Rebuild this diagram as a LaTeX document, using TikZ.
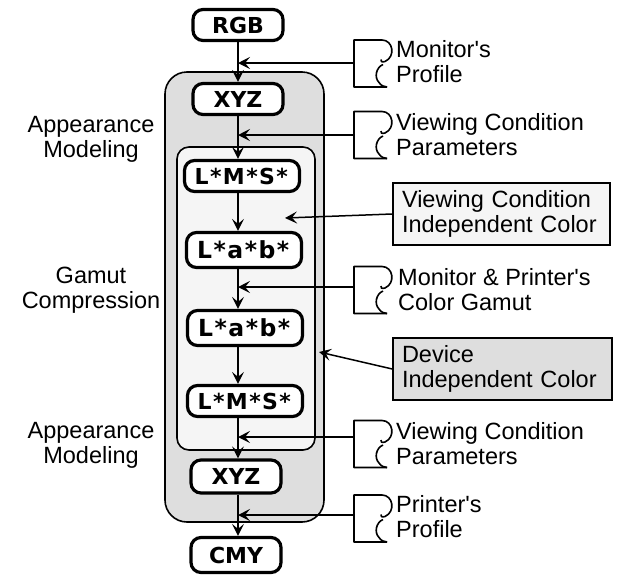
\documentclass[tikz,border=0pt]{standalone}
\usepackage{fontspec}
\setmainfont{Liberation Sans}
\newfontfamily\boxfont{DejaVu Sans}
\usetikzlibrary{arrows.meta}
\definecolor{outergray}{gray}{0.87}
\definecolor{innergray}{gray}{0.96}
\newcommand\ks{\kern1.4pt*\kern1.4pt}
\newcommand\kb{\kern1.5pt*\kern1.5pt}
\begin{document}
\begin{tikzpicture}[x=1pt,y=-1pt,
  txt/.style={font=\fontsize{23.5}{25}\selectfont, inner sep=0pt},
  stage/.style={draw, line width=3.2pt, rounded corners=10pt, fill=white,
    minimum height=31pt, minimum width=90pt, inner sep=0pt,
    font=\boxfont\bfseries\fontsize{22}{22}\selectfont},
  wide/.style={stage, minimum width=115pt},
  labbox/.style={wide, minimum height=35pt, font=\boxfont\bfseries\fontsize{23.5}{23.5}\selectfont},
  arr/.style={line width=1.5pt, -{Stealth[length=12pt,width=12pt,inset=5pt]}},
  frame/.style={draw, line width=1.6pt, inner sep=0pt},
  lblbox/.style={txt, draw, line width=1.5pt, align=left, inner xsep=9pt, minimum height=62pt},
  docpic/.pic={
    \draw[line width=1.6pt, line join=round]
      (33,23.5) -- (0,23.5) -- (0,-23.5) -- (28,-23.5)
      .. controls (39,-23.5) and (42,-7) .. (31,-2)
      .. controls (28,-1) and (26,-2) .. (27,-4);
    \draw[line width=1.6pt]
      (29,1) .. controls (22,4) and (20,14) .. (25,19)
      .. controls (27,22) and (30,23.5) .. (33,23.5);
  }
]
\useasboundingbox (0,0) rectangle (618,576);

% frames
\node[frame, fill=outergray, rounded corners=22pt, minimum width=159pt, minimum height=450pt] (outer) at (244.5,297) {};
\node[frame, fill=innergray, rounded corners=12pt, minimum width=138pt, minimum height=303pt] (inner) at (246,298.5) {};

% stages
\node[stage] (rgb) at (238,25) {RGB};
\node[stage] (xyz1) at (238,99) {XYZ};
\node[wide] (lms1) at (242,176) {L\ks M\ks S\ks};
\node[labbox] (lab1) at (244,250) {L\kb a\kb b\kb};
\node[labbox] (lab2) at (245,328) {L\kb a\kb b\kb};
\node[wide] (lms2) at (245,401) {L\ks M\ks S\ks};
\node[stage, minimum height=33pt] (xyz2) at (236,476.5) {XYZ};
\node[stage, minimum height=35pt] (cmy) at (236,555) {CMY};

% vertical flow
\draw[arr] (rgb.south) -- (xyz1.north);
\draw[arr] (xyz1.south) -- (lms1.north -| xyz1.south);
\draw[arr] (lms1.south -| xyz1.south) -- (lab1.north -| xyz1.south);
\draw[arr] (lab1.south -| xyz1.south) -- (lab2.north -| xyz1.south);
\draw[arr] (lab2.south -| xyz1.south) -- (lms2.north -| xyz1.south);
\draw[arr] (lms2.south -| xyz1.south) -- (xyz2.north -| xyz1.south);
\draw[arr] (xyz2.south -| xyz1.south) -- (cmy.north -| xyz1.south);

% documents
\pic (doc1) at (354,63.5) {docpic};
\pic (doc2) at (354,135) {docpic};
\pic (doc3) at (354,290) {docpic};
\pic (doc4) at (354,444) {docpic};
\pic (doc5) at (354,518.5) {docpic};
\coordinate (d1) at (354,63);
\coordinate (d2) at (354,135);
\coordinate (d3) at (354,287);
\coordinate (d4) at (354,437);
\coordinate (d5) at (354,515);
\draw[arr] (d1) -- (d1 -| rgb.south);
\draw[arr] (d2) -- (d2 -| rgb.south);
\draw[arr] (d3) -- (d3 -| rgb.south);
\draw[arr] (d4) -- (d4 -| rgb.south);
\draw[arr] (d5) -- (d5 -| rgb.south);

\node[txt, anchor=west, align=left] (t1) at (396,61.5) {Monitor\textquotesingle s\\Profile};
\node[txt, anchor=west, align=left] (t2) at (396,135) {Viewing Condition\\Parameters};
\node[txt, anchor=west, align=left] (t3) at (398,290) {Monitor \& Printer\textquotesingle s\\Color Gamut};
\node[txt, anchor=west, align=left] (t4) at (396,444) {Viewing Condition\\Parameters};
\node[txt, anchor=west, align=left] (t5) at (396,517) {Printer\textquotesingle s\\Profile};

% left labels
\node[txt, align=center] (am1) at (91,139) {Appearance\\Modeling};
\node[txt, align=center] (gc) at (91,290) {Gamut\\Compression};
\node[txt, align=center] (am2) at (91,445) {Appearance\\Modeling};

% label boxes
\node[lblbox, fill=innergray, text width=199pt] (vcic) at (501.5,214) {Viewing Condition\\Independent Color};
\node[lblbox, fill=outergray, text width=201pt] (dev) at (502.5,369) {Device\\Independent Color};
\coordinate (vt) at (285,218);
\coordinate (dt) at (319,352);
\draw[arr] (vcic.west) -- (vt);
\draw[arr] (dev.west) -- (dt);
\end{tikzpicture}
\end{document}
